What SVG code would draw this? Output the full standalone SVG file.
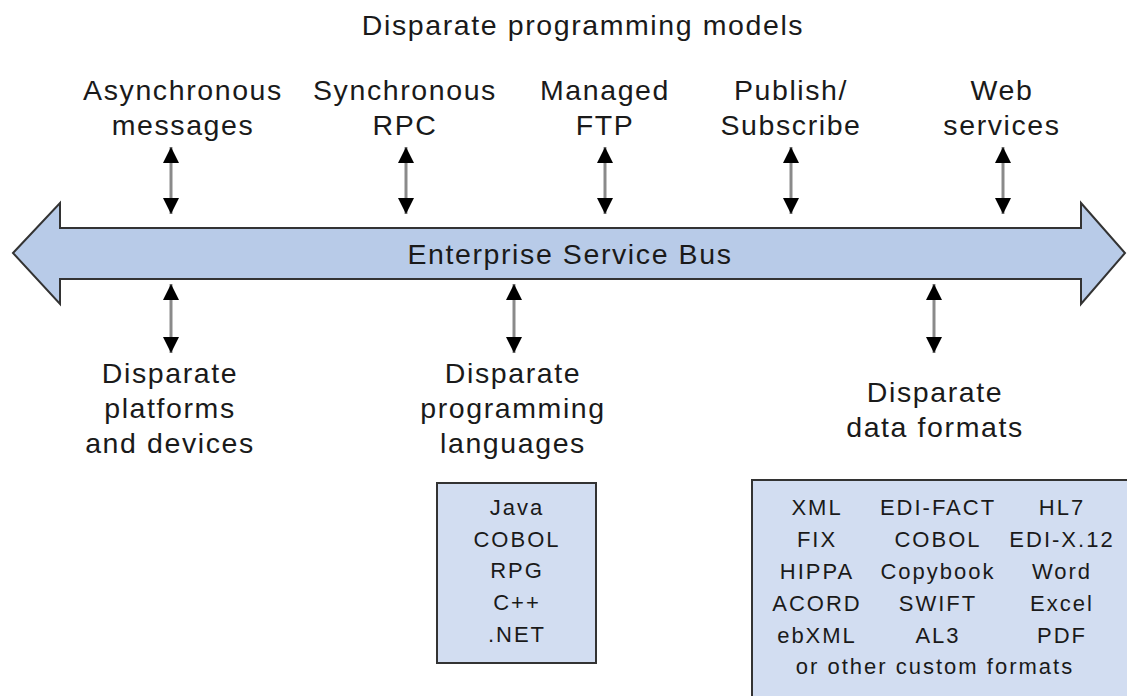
<svg xmlns="http://www.w3.org/2000/svg" width="1127" height="696" viewBox="0 0 1127 696">
<defs>
<style>
text{font-family:"Liberation Sans",Arial,sans-serif;fill:#1a1a1a;text-anchor:middle}
.lbl{font-size:28.5px;letter-spacing:1.6px}
.box{font-size:22px;letter-spacing:2px}
.arr{stroke:#8a8a8a;stroke-width:3;fill:none;marker-start:url(#ah);marker-end:url(#ah)}
.frame{fill:#d2ddf1;stroke:#333;stroke-width:2}
</style>
<marker id="ah" viewBox="0 0 16 16" refX="16" refY="8" markerWidth="16" markerHeight="16" markerUnits="userSpaceOnUse" orient="auto-start-reverse">
<path d="M0,0 L16,8 L0,16 Z" fill="#000"/>
</marker>
</defs>
<rect width="1127" height="696" fill="#fff"/>
<text class="lbl" x="583" y="35">Disparate programming models</text>
<g id="bus">
<polygon points="13,253 60,203 60,228 1081,228 1081,203 1125,253 1081,304 1081,279 60,279 60,304" fill="#b8cbe8" stroke="#333" stroke-width="2" stroke-linejoin="miter"/>
<text class="lbl" x="570" y="264">Enterprise Service Bus</text>
</g>
<g id="connectors">
<line class="arr" x1="171" y1="147" x2="171" y2="214"/>
<line class="arr" x1="406" y1="147" x2="406" y2="214"/>
<line class="arr" x1="605" y1="147" x2="605" y2="214"/>
<line class="arr" x1="791" y1="147" x2="791" y2="214"/>
<line class="arr" x1="1003" y1="147" x2="1003" y2="214"/>
<line class="arr" x1="171" y1="284" x2="171" y2="353"/>
<line class="arr" x1="514" y1="284" x2="514" y2="353"/>
<line class="arr" x1="934" y1="284" x2="934" y2="353"/>
</g>
<g id="async"><text class="lbl" x="183" y="100">Asynchronous</text><text class="lbl" x="183" y="135">messages</text></g>
<g id="sync"><text class="lbl" x="405" y="100">Synchronous</text><text class="lbl" x="405" y="135">RPC</text></g>
<g id="ftp"><text class="lbl" x="605" y="100">Managed</text><text class="lbl" x="605" y="135">FTP</text></g>
<g id="pubsub"><text class="lbl" x="791" y="100">Publish/</text><text class="lbl" x="791" y="135">Subscribe</text></g>
<g id="web"><text class="lbl" x="1002" y="100">Web</text><text class="lbl" x="1002" y="135">services</text></g>
<g id="platforms"><text class="lbl" x="170" y="383">Disparate</text><text class="lbl" x="170" y="418">platforms</text><text class="lbl" x="170" y="453">and devices</text></g>
<g id="languages"><text class="lbl" x="513" y="383">Disparate</text><text class="lbl" x="513" y="418">programming</text><text class="lbl" x="513" y="453">languages</text></g>
<g id="formats"><text class="lbl" x="935" y="402">Disparate</text><text class="lbl" x="935" y="437">data formats</text></g>
<g id="langbox">
<rect class="frame" x="437" y="483" width="159" height="180"/>
<text class="box" x="517" y="515">Java</text>
<text class="box" x="517" y="547">COBOL</text>
<text class="box" x="517" y="578">RPG</text>
<text class="box" x="517" y="610">C++</text>
<text class="box" x="517" y="642">.NET</text>
</g>
<g id="formatbox">
<rect class="frame" x="752" y="480" width="400" height="240"/>
<text class="box" x="817" y="515">XML</text>
<text class="box" x="938" y="515">EDI-FACT</text>
<text class="box" x="1062" y="515">HL7</text>
<text class="box" x="817" y="547">FIX</text>
<text class="box" x="938" y="547">COBOL</text>
<text class="box" x="1062" y="547">EDI-X.12</text>
<text class="box" x="817" y="579">HIPPA</text>
<text class="box" x="938" y="579">Copybook</text>
<text class="box" x="1062" y="579">Word</text>
<text class="box" x="817" y="611">ACORD</text>
<text class="box" x="938" y="611">SWIFT</text>
<text class="box" x="1062" y="611">Excel</text>
<text class="box" x="817" y="643">ebXML</text>
<text class="box" x="938" y="643">AL3</text>
<text class="box" x="1062" y="643">PDF</text>
<text class="box" x="935" y="674">or other custom formats</text>
</g>
</svg>
